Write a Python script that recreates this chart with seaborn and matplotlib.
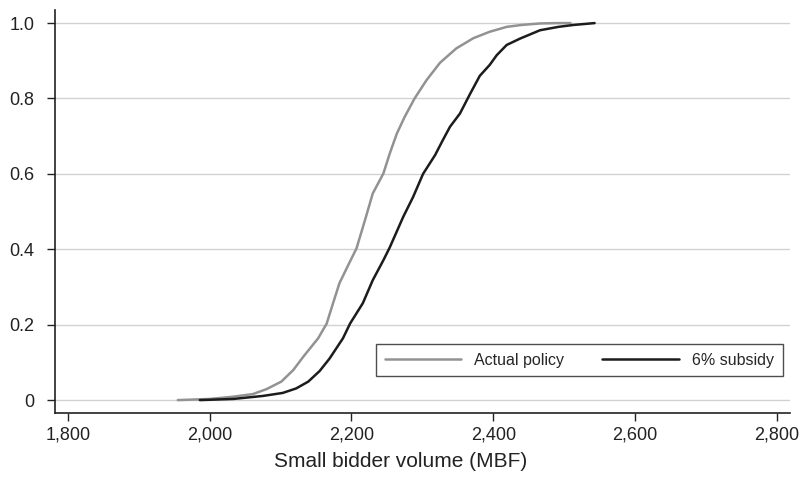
import numpy as np
import pandas as pd
import seaborn as sns
import matplotlib.pyplot as plt

# values: volume (MBF) and cumulative share
actual_x = [1955, 2000, 2033, 2061, 2080, 2101, 2118, 2132, 2153, 2165, 2174, 2183,
            2198, 2207, 2219, 2230, 2245, 2254, 2264, 2275, 2289, 2306, 2325, 2348,
            2372, 2395, 2419, 2440, 2466, 2490, 2509]
actual_y = [0.0, 0.003, 0.009, 0.016, 0.029, 0.049, 0.08, 0.115, 0.164, 0.203, 0.257, 0.31,
            0.368, 0.402, 0.477, 0.548, 0.601, 0.654, 0.707, 0.751, 0.8, 0.849, 0.895, 0.933,
            0.96, 0.977, 0.99, 0.995, 0.999, 1.0, 1.0]

subsidy_x = [1986, 2033, 2075, 2103, 2122, 2139, 2155, 2169, 2188, 2198, 2216, 2230,
             2245, 2254, 2273, 2287, 2301, 2318, 2329, 2339, 2353, 2367, 2381, 2395,
             2405, 2419, 2438, 2466, 2492, 2513, 2543]
subsidy_y = [0.0, 0.003, 0.011, 0.019, 0.031, 0.049, 0.077, 0.11, 0.164, 0.203, 0.257, 0.318,
             0.371, 0.405, 0.486, 0.539, 0.6, 0.65, 0.69, 0.725, 0.76, 0.811, 0.86, 0.889,
             0.915, 0.942, 0.959, 0.981, 0.99, 0.995, 1.0]

labels = ["Actual policy", "6% subsidy"]
x_ticks = [1800, 2000, 2200, 2400, 2600, 2800]
y_ticks = [0, 0.2, 0.4, 0.6, 0.8, 1.0]
y_tick_labels = ["0", "0.2", "0.4", "0.6", "0.8", "1.0"]

df = pd.concat([
    pd.DataFrame({"volume": actual_x, "share": actual_y, "policy": labels[0]}),
    pd.DataFrame({"volume": subsidy_x, "share": subsidy_y, "policy": labels[1]}),
])

sns.set_theme(style="white")
plt.rcParams["font.family"] = ["Liberation Sans", "DejaVu Sans"]

fig = plt.figure(figsize=(8.02, 4.80), dpi=100)
ax = fig.add_axes([0.0686, 0.140, 0.9165, 0.839])

for y in y_ticks:
    ax.axhline(y, color="#d2d2d2", lw=1.0, zorder=0)

sns.lineplot(data=df, x="volume", y="share", hue="policy", hue_order=labels,
             palette=["#929292", "#1c1c1c"], estimator=None, sort=False,
             linewidth=1.8, ax=ax)

ax.set_xlim(1781.7, 2818.8)
ax.set_ylim(-0.0337, 1.0345)
ax.set_xticks(x_ticks)
ax.set_xticklabels([f"{t:,}" for t in x_ticks])
ax.set_yticks(y_ticks)
ax.set_yticklabels(y_tick_labels)
ax.tick_params(axis="both", direction="out", length=6, width=1, color="#222222",
               labelsize=13, labelcolor="#222222")
ax.tick_params(axis="x", bottom=True, pad=4)
ax.tick_params(axis="y", left=True, pad=9)

for side in ["top", "right"]:
    ax.spines[side].set_visible(False)
for side in ["left", "bottom"]:
    ax.spines[side].set_color("#222222")
    ax.spines[side].set_linewidth(1.2)

# label is centred on the figure, not on the axes
ax.set_xlabel("Small bidder volume (MBF)", fontsize=15, color="#222222",
              labelpad=6, x=0.4707)
ax.set_ylabel("")

leg = ax.legend(loc="center", bbox_to_anchor=(0.4367, 0.083, 0.5533, 0.096),
                mode="expand", ncol=2, frameon=True, fancybox=False,
                fontsize=11.5, handlelength=4.8, handletextpad=0.8,
                columnspacing=2.5, borderpad=0.55, borderaxespad=0)
leg.get_frame().set_edgecolor("#222222")
leg.get_frame().set_linewidth(1.0)
for line in leg.get_lines():
    line.set_linewidth(1.8)

fig.savefig("out.png", dpi=100)
